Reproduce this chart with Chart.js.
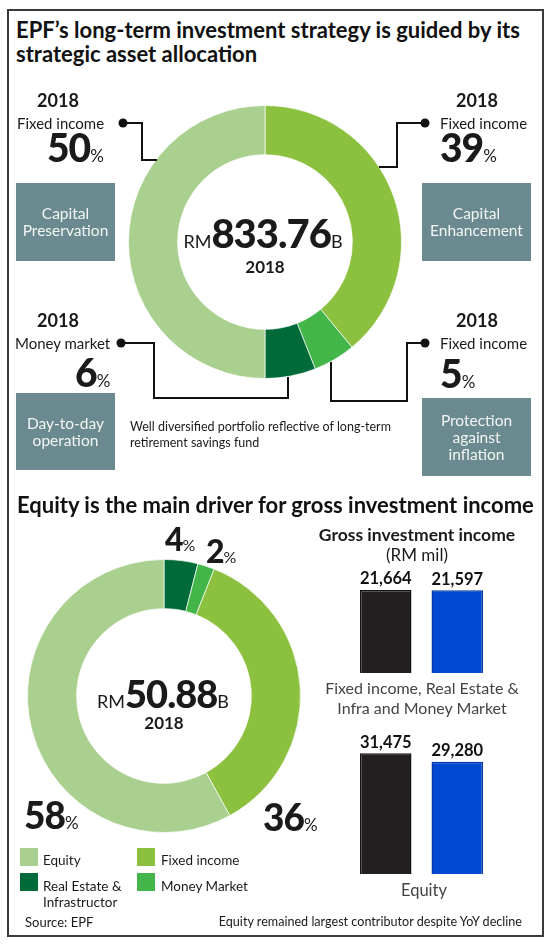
<!DOCTYPE html>
<html>
<head>
<meta charset="utf-8">
<script src="https://cdn.jsdelivr.net/npm/chart.js@4.4.0/dist/chart.umd.min.js"></script>
<style>
  html, body { margin: 0; padding: 0; background: #fff; }
  body { font-family: Lato, "Open Sans", sans-serif; color: #1a1a1a; }
  #page { position: relative; width: 550px; height: 946px; overflow: hidden; background: #fff; }
  .abs { position: absolute; white-space: nowrap; }
  .frame { position: absolute; left: 7px; top: 9px; width: 533px; height: 924px; border: 2px solid #3a3a3a; }
  .title { font-weight: 700; font-size: 22px; line-height: 24px; color: #111; }
  .yr { font-weight: 700; font-size: 18px; line-height: 20px; width: 80px; text-align: center; }
  .lbl { font-size: 15px; line-height: 18px; }
  .big { font-weight: 900; line-height: 40px; letter-spacing: -1px; }
  .big small { font-size: 17px; font-weight: 400; letter-spacing: 0; }
  .box { position: absolute; background: #6b8a8f; color: #f2f5f5; font-size: 15.5px; line-height: 17px;
         display: flex; align-items: center; justify-content: center; text-align: center; }
  .center { text-align: center; }
  .sw { position: absolute; width: 18px; height: 18px; }
  .leg { font-size: 13.5px; line-height: 16px; }
  canvas { position: absolute; }
</style>
</head>
<body>
<div id="page">
  <div class="frame"></div>

  <div class="abs title" style="left:16px; top:18px;">EPF’s long-term investment strategy is guided by its<br>strategic asset allocation</div>

  <!-- first doughnut -->
  <canvas id="allocChart" style="left:128px; top:105px;"></canvas>

  <svg class="abs" style="left:0; top:0;" width="550" height="946">
    <g fill="none" stroke="#111" stroke-width="2">
      <path d="M123,123 H142 V160 H157"/>
      <path d="M425,123 H397 V167 H379"/>
      <path d="M121,343 H154 V398 H288 V377"/>
      <path d="M425,343 H407 V401 H331 V362"/>
    </g>
    <g fill="#111">
      <circle cx="123" cy="123" r="4.5"/>
      <circle cx="425" cy="123" r="4.5"/>
      <circle cx="121" cy="343" r="4.5"/>
      <circle cx="425" cy="343" r="4.5"/>
    </g>
  </svg>

  <div class="abs yr" style="left:18px; top:90px;">2018</div>
  <div class="abs lbl" style="left:17px; top:114px;">Fixed income</div>
  <div class="abs big" style="left:47px; top:127px; font-size:39px;">50<small>%</small></div>
  <div class="box" style="left:16px; top:183px; width:99px; height:78px;">Capital<br>Preservation</div>

  <div class="abs yr" style="left:437px; top:90px;">2018</div>
  <div class="abs lbl" style="left:440px; top:114px;">Fixed income</div>
  <div class="abs big" style="left:440px; top:127px; font-size:39px;">39<small>%</small></div>
  <div class="box" style="left:422px; top:183px; width:109px; height:78px;">Capital<br>Enhancement</div>

  <div class="abs yr" style="left:18px; top:310px;">2018</div>
  <div class="abs lbl" style="left:15px; top:334px;">Money market</div>
  <div class="abs big" style="left:75px; top:352px; font-size:39px;">6<small>%</small></div>
  <div class="box" style="left:16px; top:393px; width:99px; height:77px;">Day-to-day<br>operation</div>

  <div class="abs yr" style="left:437px; top:310px;">2018</div>
  <div class="abs lbl" style="left:440px; top:334px;">Fixed income</div>
  <div class="abs big" style="left:440px; top:353px; font-size:39px;">5<small>%</small></div>
  <div class="box" style="left:422px; top:398px; width:109px; height:78px;">Protection<br>against<br>inflation</div>

  <div class="abs center" style="left:163px; top:212px; width:200px; font-weight:900; font-size:40px; line-height:42px; letter-spacing:-1px;"><span style="font-size:18px; font-weight:400; letter-spacing:0;">RM</span>833.76<span style="font-size:18px; font-weight:400; letter-spacing:0;">B</span></div>
  <div class="abs center" style="left:225px; top:257px; width:80px; font-weight:700; font-size:17px; line-height:20px;">2018</div>

  <div class="abs" style="left:130px; top:419px; font-size:12.5px; line-height:16px;">Well diversified portfolio reflective of long-term<br>retirement savings fund</div>

  <div class="abs title" style="left:17px; top:493px;">Equity is the main driver for gross investment income</div>

  <!-- second doughnut -->
  <canvas id="incomeChart" style="left:27px; top:559px;"></canvas>

  <div class="abs big" style="left:165px; top:519px; font-size:32px;">4<small style="font-size:16px;">%</small></div>
  <div class="abs big" style="left:206px; top:531px; font-size:32px;">2<small style="font-size:16px;">%</small></div>
  <div class="abs big" style="left:24px; top:795px; font-size:37px;">58<small>%</small></div>
  <div class="abs big" style="left:263px; top:797px; font-size:37px;">36<small>%</small></div>

  <div class="abs center" style="left:63px; top:672px; width:200px; font-weight:900; font-size:38px; line-height:42px; letter-spacing:-1px;"><span style="font-size:18px; font-weight:400; letter-spacing:0;">RM</span>50.88<span style="font-size:18px; font-weight:400; letter-spacing:0;">B</span></div>
  <div class="abs center" style="left:124px; top:713px; width:80px; font-weight:700; font-size:17px; line-height:20px;">2018</div>

  <div class="sw" id="sw0" style="left:20px; top:848px;"></div>
  <div class="abs leg" style="left:43px; top:852px;">Equity</div>
  <div class="sw" id="sw1" style="left:137px; top:848px;"></div>
  <div class="abs leg" style="left:161px; top:852px;">Fixed income</div>
  <div class="sw" id="sw2" style="left:20px; top:873px;"></div>
  <div class="abs leg" style="left:43px; top:878px;">Real Estate &amp;<br>Infrastructor</div>
  <div class="sw" id="sw3" style="left:137px; top:873px;"></div>
  <div class="abs leg" style="left:161px; top:878px;">Money Market</div>

  <!-- gross investment income bars -->
  <div class="abs center" style="left:317px; top:525px; width:200px; font-weight:700; font-size:17.5px; line-height:20px;">Gross investment income</div>
  <div class="abs center" style="left:317px; top:545px; width:200px; font-size:17px; line-height:20px;">(RM mil)</div>

  <canvas id="fixedBars" style="left:350px; top:515px;"></canvas>
  <div class="abs center" style="left:302px; top:678px; width:240px; font-size:16px; line-height:20px; color:#444;">Fixed income, Real Estate &amp;<br>Infra and Money Market</div>

  <canvas id="equityBars" style="left:350px; top:716px;"></canvas>
  <div class="abs center" style="left:364px; top:880px; width:120px; font-size:16.5px; line-height:20px; color:#444;">Equity</div>

  <div class="abs" style="left:25px; top:914px; font-size:13px; line-height:16px;">Source: EPF</div>
  <div class="abs" style="right:28px; top:914px; font-size:12.6px; line-height:16px;">Equity remained largest contributor despite YoY decline</div>
</div>

<script>
// Strategic asset allocation 2018 (%), clockwise from 12 o'clock
const allocLabels = ["Fixed income (Capital Enhancement)", "Fixed income (Protection against inflation)", "Money market", "Fixed income (Capital Preservation)"];
const allocValues = [39, 5, 6, 50];

// Gross investment income share 2018 (%), clockwise from 12 o'clock
const incomeLabels = ["Real Estate & Infrastructor", "Money Market", "Fixed income", "Equity"];
const incomeValues = [4, 2, 36, 58];

// Gross investment income (RM mil): previous year, 2018
const barLabels = ["2017", "2018"];
const fixedGroupValues = [21664, 21597];
const equityGroupValues = [31475, 29280];

const equityGreen = "#a9d08e";
const fixedGreen = "#8cc03f";
const realEstateGreen = "#006b38";
const moneyGreen = "#43b549";

Chart.defaults.font.family = "Lato, 'Open Sans', sans-serif";

function doughnut(id, labels, values, colors) {
  const el = document.getElementById(id);
  el.width = 274;
  el.height = 274;
  return new Chart(el, {
    type: "doughnut",
    data: {
      labels: labels,
      datasets: [{
        data: values,
        backgroundColor: colors,
        borderColor: "rgba(255,255,255,0.7)",
        borderWidth: 1,
      }],
    },
    options: {
      responsive: false,
      animation: false,
      cutout: "64%",
      layout: { padding: 0 },
      plugins: { legend: { display: false }, tooltip: { enabled: false } },
    },
  });
}

doughnut("allocChart", allocLabels, allocValues, [fixedGreen, moneyGreen, realEstateGreen, equityGreen]);
doughnut("incomeChart", incomeLabels, incomeValues, [realEstateGreen, moneyGreen, fixedGreen, equityGreen]);

// legend swatches use the same colours as the slices
[equityGreen, fixedGreen, realEstateGreen, moneyGreen].forEach((c, i) => {
  document.getElementById("sw" + i).style.background = c;
});

// value labels on top of the bars
const valueLabels = {
  id: "valueLabels",
  afterDatasetsDraw(chart) {
    const ctx = chart.ctx;
    const ds = chart.data.datasets[0];
    ctx.save();
    ctx.font = "700 16.5px Lato, 'Open Sans', sans-serif";
    ctx.fillStyle = "#111";
    ctx.textAlign = "center";
    ctx.textBaseline = "middle";
    chart.getDatasetMeta(0).data.forEach((bar, i) => {
      ctx.fillText(ds.data[i].toLocaleString("en-US"), bar.x, bar.y - 11);
    });
    ctx.restore();
  },
};

function bars(id, values) {
  const el = document.getElementById(id);
  el.width = 143;
  el.height = 158;
  return new Chart(el, {
    type: "bar",
    data: {
      labels: barLabels,
      datasets: [{
        data: values,
        backgroundColor: ["#231f20", "#0049d0"],
        borderColor: ["#111", "#0036a6"],
        borderWidth: 1.5,
        barPercentage: 0.72,
        categoryPercentage: 1,
      }],
    },
    options: {
      responsive: false,
      animation: false,
      layout: { padding: { top: 20 } },
      scales: {
        x: { display: false },
        y: { display: false, min: 0, max: 36000 },
      },
      plugins: { legend: { display: false }, tooltip: { enabled: false } },
    },
    plugins: [valueLabels],
  });
}

bars("fixedBars", fixedGroupValues);
bars("equityBars", equityGroupValues);
</script>
</body>
</html>
